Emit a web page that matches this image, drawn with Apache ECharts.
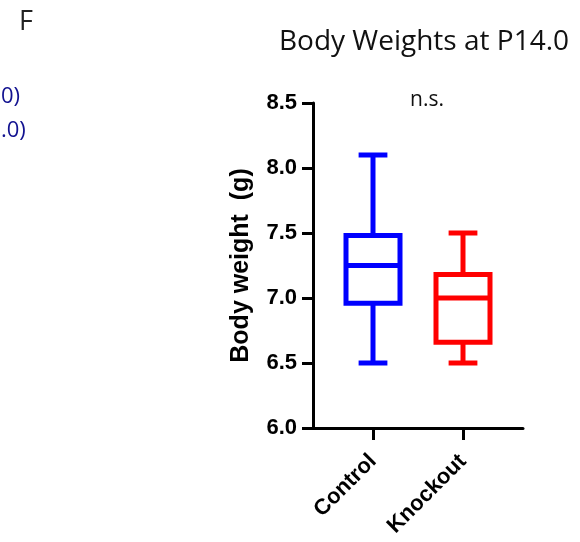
<!DOCTYPE html>
<html>
<head>
<meta charset="utf-8">
<script src="https://cdn.jsdelivr.net/npm/echarts@6/dist/echarts.min.js"></script>
<style>
  html, body { margin: 0; padding: 0; background: #fff; }
  #chart { width: 580px; height: 542px; }
</style>
</head>
<body>
<div id="chart"></div>
<script>
// 箱线图：P14.0 体重对照
const groups = ['Control', 'Knockout'];
const groupColors = ['#0000ff', '#ff0000'];
// [min, Q1, median, Q3, max]
const controlStats = [6.5, 6.96, 7.25, 7.48, 8.1];
const knockoutStats = [6.5, 6.66, 7.0, 7.18, 7.5];
const yTicks = [6.0, 6.5, 7.0, 7.5, 8.0, 8.5];

const boxData = [controlStats, knockoutStats].map((s, i) => [i, ...s]);

const chart = echarts.init(document.getElementById('chart'));
const axisColor = '#000';

chart.setOption({
  backgroundColor: '#fff',
  animation: false,
  title: [
    { text: 'Body Weights at P14.0', left: 419, top: 23, textAlign: 'center',
      textStyle: { fontFamily: 'Open Sans', fontWeight: 'normal', fontSize: 28, color: '#111' } },
    { text: 'F', left: 14, top: 4,
      textStyle: { fontFamily: 'Open Sans', fontWeight: 'normal', fontSize: 27, color: '#222' } },
    { text: '0)', left: -4, top: 81,
      textStyle: { fontFamily: 'Open Sans', fontWeight: 'normal', fontSize: 22, color: '#121290' } },
    { text: '.0)', left: -4, top: 115,
      textStyle: { fontFamily: 'Open Sans', fontWeight: 'normal', fontSize: 22, color: '#121290' } },
    { text: 'n.s.', left: 422, top: 85, textAlign: 'center',
      textStyle: { fontFamily: 'Open Sans', fontWeight: 'normal', fontSize: 21, color: '#111' } }
  ],
  grid: [
    { left: 313, right: 57, top: 103, bottom: 114 },
    { left: 328, right: 72, top: 103, bottom: 114 }
  ],
  xAxis: [
    { gridIndex: 0, type: 'value', min: 0, max: 1,
      axisLine: { show: true, lineStyle: { color: axisColor, width: 3 } },
      axisTick: { show: false }, axisLabel: { show: false }, splitLine: { show: false } },
    { gridIndex: 1, type: 'category', data: groups,
      axisLine: { show: false },
      axisTick: { show: true, alignWithLabel: true, length: 12, lineStyle: { color: axisColor, width: 3 } },
      axisLabel: { rotate: 45, margin: 30, fontFamily: 'Liberation Sans', fontWeight: 'bold', fontSize: 22, color: '#000' },
      splitLine: { show: false } }
  ],
  yAxis: [
    { gridIndex: 0, type: 'value', min: 6, max: 8.5, interval: 0.5,
      name: 'Body weight  (g)', nameLocation: 'middle', nameGap: 59,
      nameTextStyle: { fontFamily: 'Liberation Sans', fontWeight: 'bold', fontSize: 25, color: '#000' },
      axisLine: { show: true, lineStyle: { color: axisColor, width: 3 } },
      axisTick: { show: true, length: 11, lineStyle: { color: axisColor, width: 3 } },
      axisLabel: { margin: 16, fontFamily: 'Liberation Sans', fontWeight: 'bold', fontSize: 22, color: '#000',
        formatter: v => yTicks.includes(v) ? v.toFixed(1) : '' },
      splitLine: { show: false } },
    { gridIndex: 1, type: 'value', min: 6, max: 8.5, interval: 0.5, show: false }
  ],
  series: [{
    type: 'custom',
    xAxisIndex: 1,
    yAxisIndex: 1,
    encode: { x: 0, y: [1, 2, 3, 4, 5] },
    data: boxData,
    renderItem: (params, api) => {
      const idx = api.value(0);
      const band = api.size([1, 0])[0];
      const x = api.coord([idx, api.value(3)])[0];
      const y = k => api.coord([idx, api.value(k)])[1];
      const half = band * 0.3;
      const cap = band * 0.16;
      const color = groupColors[idx];
      const style = { stroke: color, lineWidth: 5, fill: null };
      return {
        type: 'group',
        children: [
          { type: 'rect', shape: { x: x - half, y: y(4), width: half * 2, height: y(2) - y(4) }, style },
          { type: 'line', shape: { x1: x - half, y1: y(3), x2: x + half, y2: y(3) }, style },
          { type: 'line', shape: { x1: x, y1: y(4), x2: x, y2: y(5) }, style },
          { type: 'line', shape: { x1: x, y1: y(2), x2: x, y2: y(1) }, style },
          { type: 'line', shape: { x1: x - cap, y1: y(5), x2: x + cap, y2: y(5) }, style },
          { type: 'line', shape: { x1: x - cap, y1: y(1), x2: x + cap, y2: y(1) }, style }
        ]
      };
    }
  }]
});
</script>
</body>
</html>
